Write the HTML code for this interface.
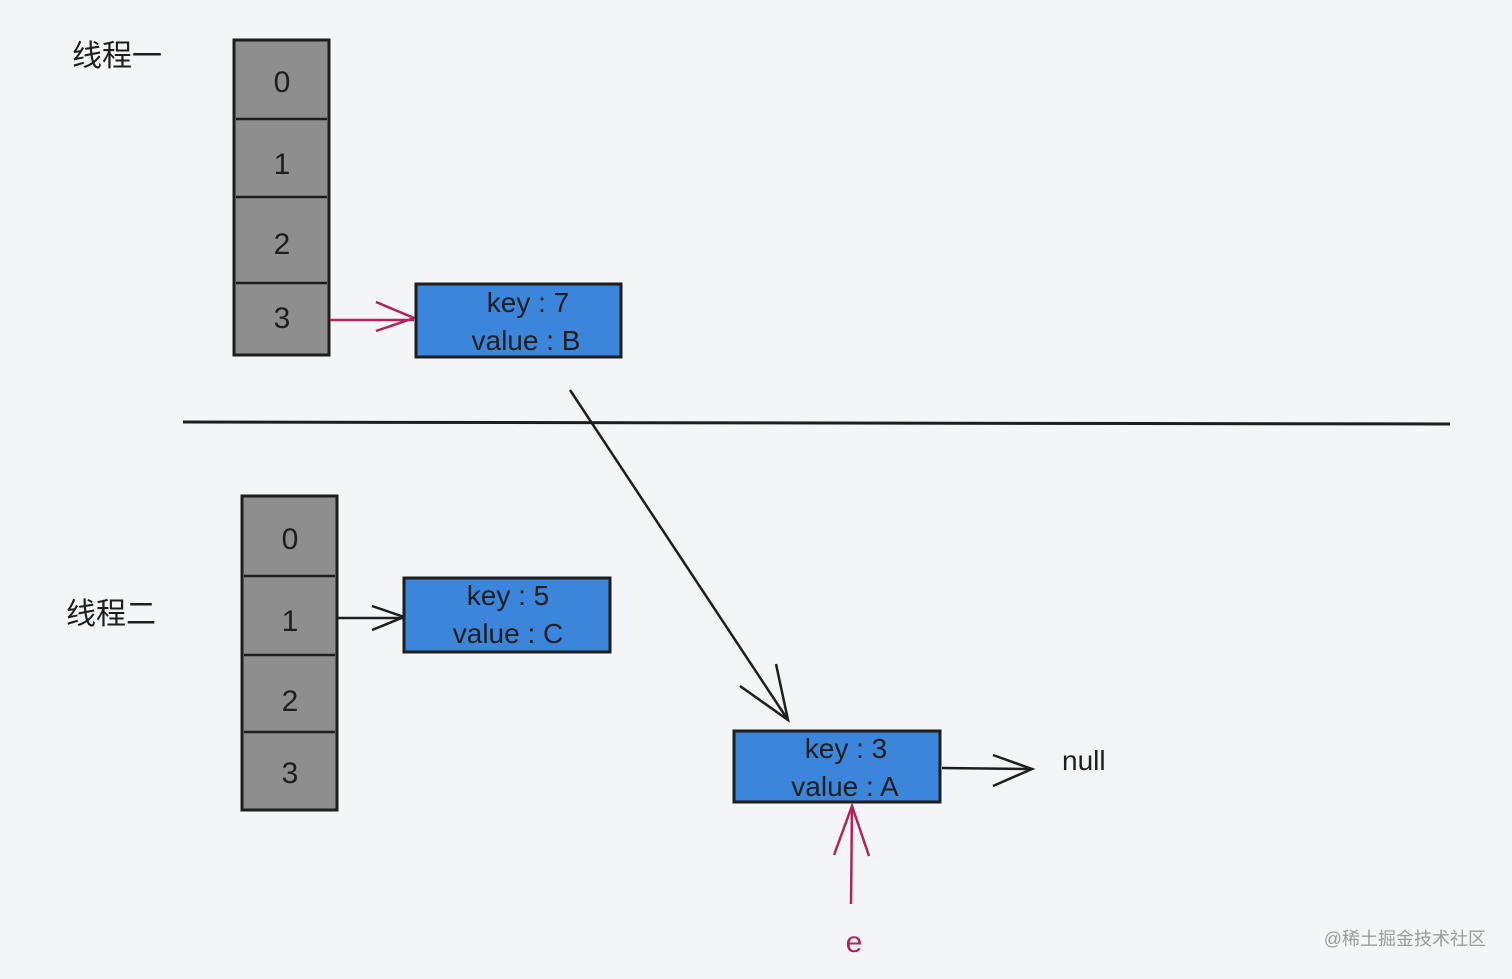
<!DOCTYPE html>
<html><head><meta charset="utf-8"><style>
html,body{margin:0;padding:0;background:#f4f5f7;}
svg text{font-family:"Liberation Sans","Noto Sans CJK SC",sans-serif;}
</style></head><body>
<svg width="1512" height="974" viewBox="0 0 1512 974" xmlns="http://www.w3.org/2000/svg">
<rect width="1512" height="974" fill="#f4f5f7"/>
<!-- thread 1 -->
<text x="72" y="66" font-size="30" fill="#1e1e1e">线程一</text>
<rect x="234" y="40" width="95" height="315" fill="#8e8e8e" stroke="#1e1e1e" stroke-width="3"/>
<line x1="236" y1="119" x2="327" y2="119" stroke="#1e1e1e" stroke-width="2.5"/>
<line x1="236" y1="197" x2="327" y2="197" stroke="#1e1e1e" stroke-width="2.5"/>
<line x1="236" y1="283" x2="327" y2="283" stroke="#1e1e1e" stroke-width="2.5"/>
<g font-size="30" fill="#1e1e1e" text-anchor="middle">
<text x="282" y="92">0</text><text x="282" y="174">1</text><text x="282" y="254">2</text><text x="282" y="328">3</text>
</g>
<line x1="330" y1="320" x2="414" y2="320" stroke="#b0245a" stroke-width="2.5"/>
<polyline points="376,302 414,318 376,331" fill="none" stroke="#b0245a" stroke-width="2.5"/>
<rect x="416" y="284" width="205" height="73" fill="#3b86db" stroke="#1e1e1e" stroke-width="3"/>
<g font-size="28" fill="#1e1e1e" text-anchor="middle">
<text x="528" y="312">key : 7</text><text x="526" y="350">value : B</text>
</g>
<!-- divider -->
<line x1="183" y1="422" x2="1450" y2="424" stroke="#1e1e1e" stroke-width="3"/>
<!-- thread 2 -->
<text x="66" y="624" font-size="30" fill="#1e1e1e">线程二</text>
<rect x="242" y="496" width="95" height="314" fill="#8e8e8e" stroke="#1e1e1e" stroke-width="3"/>
<line x1="244" y1="576" x2="335" y2="576" stroke="#1e1e1e" stroke-width="2.5"/>
<line x1="244" y1="655" x2="335" y2="655" stroke="#1e1e1e" stroke-width="2.5"/>
<line x1="244" y1="732" x2="335" y2="732" stroke="#1e1e1e" stroke-width="2.5"/>
<g font-size="30" fill="#1e1e1e" text-anchor="middle">
<text x="290" y="549">0</text><text x="290" y="631">1</text><text x="290" y="711">2</text><text x="290" y="783">3</text>
</g>
<line x1="338" y1="618" x2="404" y2="618" stroke="#1e1e1e" stroke-width="2.5"/>
<polyline points="372,606 404,617 372,630" fill="none" stroke="#1e1e1e" stroke-width="2.5"/>
<rect x="404" y="578" width="206" height="74" fill="#3b86db" stroke="#1e1e1e" stroke-width="3"/>
<g font-size="28" fill="#1e1e1e" text-anchor="middle">
<text x="508" y="605">key : 5</text><text x="508" y="643">value : C</text>
</g>
<!-- diagonal arrow -->
<line x1="570" y1="390" x2="788" y2="720" stroke="#1e1e1e" stroke-width="2.5"/>
<polyline points="740,686 788,720 776,664" fill="none" stroke="#1e1e1e" stroke-width="2.5"/>
<!-- node A -->
<rect x="734" y="731" width="206" height="71" fill="#3b86db" stroke="#1e1e1e" stroke-width="3"/>
<g font-size="28" fill="#1e1e1e" text-anchor="middle">
<text x="846" y="758">key : 3</text><text x="845" y="796">value : A</text>
</g>
<line x1="942" y1="768" x2="1032" y2="769" stroke="#1e1e1e" stroke-width="2.5"/>
<polyline points="993,755 1032,769 993,786" fill="none" stroke="#1e1e1e" stroke-width="2.5"/>
<text x="1062" y="770" font-size="28" fill="#1e1e1e">null</text>
<!-- e arrow -->
<line x1="851" y1="904" x2="852" y2="806" stroke="#b0245a" stroke-width="2.5"/>
<polyline points="834,855 852,806 869,856" fill="none" stroke="#b0245a" stroke-width="2.5"/>
<text x="854" y="952" font-size="30" fill="#b0245a" text-anchor="middle">e</text>
<!-- watermark -->
<text x="1486" y="945" font-size="18" fill="#9a9ca0" text-anchor="end">@稀土掘金技术社区</text>
</svg>
</body></html>
